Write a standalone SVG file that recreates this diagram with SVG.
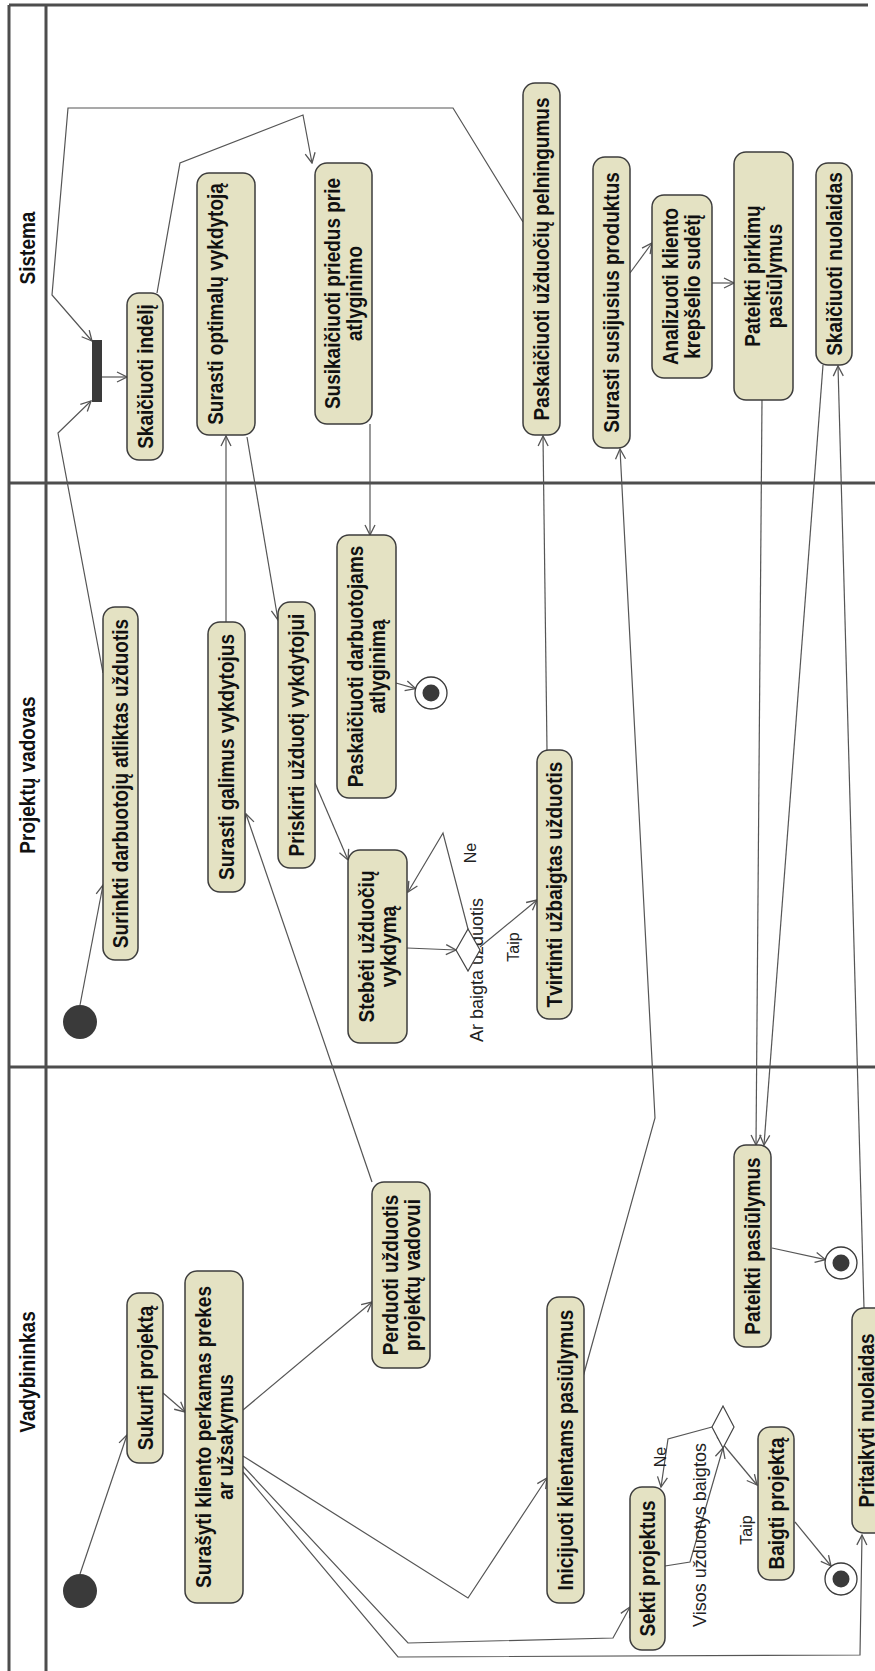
<svg xmlns="http://www.w3.org/2000/svg" width="875" height="1671" viewBox="0 0 875 1671">
  <defs>
    <marker id="arr" markerUnits="userSpaceOnUse" markerWidth="12" markerHeight="12" refX="11" refY="6" orient="auto">
      <path d="M1,1 L11,6 L1,11" fill="none" stroke="#555" stroke-width="1.3"/>
    </marker>
    <style>
      .frame { fill: none; stroke: #4d4d4d; stroke-width: 3; }
      .node rect { fill: #e4e2c3; stroke: #3d3d3d; stroke-width: 1.5; }
      .lbl { font-family: "Liberation Sans", Arial, sans-serif; font-weight: bold; font-size: 19px; fill: #111; text-anchor: middle; }
      .guard { font-family: "Liberation Sans", Arial, sans-serif; font-size: 16px; fill: #222; text-anchor: middle; }
      .cond { font-family: "Liberation Sans", Arial, sans-serif; font-size: 18px; fill: #222; text-anchor: middle; }
      .edge { fill: none; stroke: #555; stroke-width: 1.2; marker-end: url(#arr); }
      .start { fill: #3a3a3a; }
      .endo { fill: #fff; stroke: #3a3a3a; stroke-width: 1.3; }
      .endi { fill: #3a3a3a; }
      .dec { fill: #fff; stroke: #444; stroke-width: 1.2; }
      .bar { fill: #3a3a3a; }
    </style>
  </defs>

  <rect width="875" height="1671" fill="#fff"/>

  <!-- swimlane frame -->
  <g id="lanes">
    <path class="frame" d="M9,5 H868 M9,5 V1671 M46,5 V1671 M9,483 H875 M9,1067 H875"/>
    <text class="lbl" transform="translate(27,248) rotate(-90) scale(1,1.15)" y="6.8">Sistema</text>
    <text class="lbl" transform="translate(27,775) rotate(-90) scale(1,1.15)" y="6.8">Projektų vadovas</text>
    <text class="lbl" transform="translate(27,1372) rotate(-90) scale(1,1.15)" y="6.8">Vadybininkas</text>
  </g>

  <!-- connectors -->
  <g id="connectors">
    <path class="edge" d="M80,1574 L127,1435"/>
    <path class="edge" d="M163,1393 L185,1412"/>
    <path class="edge" d="M243,1410 L372,1302"/>
    <path class="edge" d="M243,1456 L468,1598 L547,1478"/>
    <path class="edge" d="M243,1466 L408,1643 L613,1638 L630,1607"/>
    <path class="edge" d="M243,1472 L398,1657 L860,1655 L862,1535"/>
    <path class="edge" d="M372,1182 L246,814"/>
    <path class="edge" d="M226,622 L226,436"/>
    <path class="edge" d="M247,437 L278,620"/>
    <path class="edge" d="M315,783 L348,860"/>
    <path class="edge" d="M407,948 L456,950"/>
    <path class="edge" d="M468,929 L443,833 L408,892"/>
    <path class="edge" d="M480,947 L537,900"/>
    <path class="edge" d="M547,750 L543,436"/>
    <path class="edge" d="M523,222 L453,108 L68,108 L52,295 L92,341"/>
    <path class="edge" d="M103,673 L58,433 L91,401"/>
    <path class="edge" d="M102,377 L127,377"/>
    <path class="edge" d="M157,293 L180,163 L303,115 L312,163"/>
    <path class="edge" d="M80,1005 L103,885"/>
    <path class="edge" d="M370,424 L370,535"/>
    <path class="edge" d="M396,683 L415.6,688.6"/>
    <path class="edge" d="M630,273 L652,243"/>
    <path class="edge" d="M712,283 L734,283"/>
    <path class="edge" d="M583,1377 L655,1118 L620,449"/>
    <path class="edge" d="M762,400 L756,1145"/>
    <path class="edge" d="M823,365 L764,1145"/>
    <path class="edge" d="M864,1308 L838,366"/>
    <path class="edge" d="M772,1248 L825.4,1259.6"/>
    <path class="edge" d="M795,1522 L831,1566"/>
    <path class="edge" d="M665,1566 L690,1562 L723,1448"/>
    <path class="edge" d="M712,1427 L668,1439 L661,1487"/>
    <path class="edge" d="M717,1437 L757,1485"/>
  </g>

  <!-- guard and decision labels -->
  <g id="edge-labels">
    <text class="guard" transform="translate(476,853) rotate(-90)">Ne</text>
    <text class="guard" transform="translate(519,947) rotate(-90)">Taip</text>
    <text class="cond" transform="translate(483,970) rotate(-90)">Ar baigta užduotis</text>
    <text class="guard" transform="translate(666,1457) rotate(-90)">Ne</text>
    <text class="guard" transform="translate(752,1530) rotate(-90)">Taip</text>
    <text class="cond" transform="translate(706,1535) rotate(-90)">Visos užduotys baigtos</text>
  </g>

  <!-- Sistema lane -->
  <g id="fork" class="node"><rect class="bar" x="92" y="340" width="10" height="62" style="fill:#3a3a3a;stroke:none"/></g>
  <g id="skaiciuoti-indeli" class="node">
    <rect x="127" y="293" width="36" height="167" rx="12"/>
    <text class="lbl" transform="translate(145,376.5) rotate(-90) scale(1,1.15)" y="6.8">Skaičiuoti indėlį</text>
  </g>
  <g id="surasti-optimalu" class="node">
    <rect x="197" y="173" width="58" height="262" rx="12"/>
    <text class="lbl" transform="translate(226,304) rotate(-90) scale(1,1.15)" y="-2.7">Surasti optimalų vykdytoją</text>
  </g>
  <g id="susikaiciuoti-priedus" class="node">
    <rect x="315" y="163" width="57" height="261" rx="12"/>
    <text class="lbl" transform="translate(343.5,293.5) rotate(-90) scale(1,1.15)"><tspan x="0" y="-2.7">Susikaičiuoti priedus prie</tspan><tspan x="0" y="16.3">atlyginimo</tspan></text>
  </g>
  <g id="paskaiciuoti-pelninguma" class="node">
    <rect x="523" y="83" width="37" height="352" rx="12"/>
    <text class="lbl" transform="translate(541.5,259) rotate(-90) scale(1,1.15)" y="6.8">Paskaičiuoti užduočių pelningumus</text>
  </g>
  <g id="surasti-susijusius" class="node">
    <rect x="593" y="157" width="37" height="291" rx="12"/>
    <text class="lbl" transform="translate(611.5,302.5) rotate(-90) scale(1,1.15)" y="6.8">Surasti susijusius produktus</text>
  </g>
  <g id="analizuoti-krepseli" class="node">
    <rect x="652" y="195" width="60" height="183" rx="12"/>
    <text class="lbl" transform="translate(681,286.5) rotate(-90) scale(1,1.15)"><tspan x="0" y="-2.7">Analizuoti kliento</tspan><tspan x="0" y="16.3">krepšelio sudėtį</tspan></text>
  </g>
  <g id="pateikti-pirkimu" class="node">
    <rect x="734" y="152" width="59" height="248" rx="12"/>
    <text class="lbl" transform="translate(763.5,276) rotate(-90) scale(1,1.15)"><tspan x="0" y="-2.7">Pateikti pirkimų</tspan><tspan x="0" y="16.3">pasiūlymus</tspan></text>
  </g>
  <g id="skaiciuoti-nuolaidas" class="node">
    <rect x="816" y="163" width="36" height="202" rx="12"/>
    <text class="lbl" transform="translate(834,264) rotate(-90) scale(1,1.15)" y="6.8">Skaičiuoti nuolaidas</text>
  </g>

  <!-- Projektų vadovas lane -->
  <g id="start-pv"><circle class="start" cx="80" cy="1022" r="17"/></g>
  <g id="surinkti" class="node">
    <rect x="103" y="607" width="35" height="353" rx="12"/>
    <text class="lbl" transform="translate(120.5,783.5) rotate(-90) scale(1,1.15)" y="6.8">Surinkti darbuotojų atliktas užduotis</text>
  </g>
  <g id="surasti-galimus" class="node">
    <rect x="208" y="622" width="37" height="270" rx="12"/>
    <text class="lbl" transform="translate(226.5,757) rotate(-90) scale(1,1.15)" y="6.8">Surasti galimus vykdytojus</text>
  </g>
  <g id="priskirti" class="node">
    <rect x="278" y="602" width="37" height="266" rx="12"/>
    <text class="lbl" transform="translate(296.5,735) rotate(-90) scale(1,1.15)" y="6.8">Priskirti užduotį vykdytojui</text>
  </g>
  <g id="paskaiciuoti-atlyginima" class="node">
    <rect x="337" y="535" width="59" height="263" rx="12"/>
    <text class="lbl" transform="translate(366.5,666.5) rotate(-90) scale(1,1.15)"><tspan x="0" y="-2.7">Paskaičiuoti darbuotojams</tspan><tspan x="0" y="16.3">atlyginimą</tspan></text>
  </g>
  <g id="end-pv"><circle class="endo" cx="431" cy="693" r="16"/><circle class="endi" cx="431" cy="693" r="8.5"/></g>
  <g id="stebeti" class="node">
    <rect x="348" y="850" width="59" height="193" rx="12"/>
    <text class="lbl" transform="translate(377.5,946.5) rotate(-90) scale(1,1.15)"><tspan x="0" y="-2.7">Stebėti užduočių</tspan><tspan x="0" y="16.3">vykdymą</tspan></text>
  </g>
  <g id="decision-uzduotis"><polygon class="dec" points="456,950 468,929 480,950 468,971"/></g>
  <g id="tvirtinti" class="node">
    <rect x="537" y="750" width="35" height="269" rx="12"/>
    <text class="lbl" transform="translate(554.5,884.5) rotate(-90) scale(1,1.15)" y="6.8">Tvirtinti užbaigtas užduotis</text>
  </g>

  <!-- Vadybininkas lane -->
  <g id="start-v"><circle class="start" cx="80" cy="1591" r="17"/></g>
  <g id="sukurti" class="node">
    <rect x="127" y="1293" width="36" height="170" rx="12"/>
    <text class="lbl" transform="translate(145,1378) rotate(-90) scale(1,1.15)" y="6.8">Sukurti projektą</text>
  </g>
  <g id="surasyti" class="node">
    <rect x="185" y="1271" width="58" height="332" rx="12"/>
    <text class="lbl" transform="translate(214,1437) rotate(-90) scale(1,1.15)"><tspan x="0" y="-2.7">Surašyti kliento perkamas prekes</tspan><tspan x="0" y="16.3">ar užsakymus</tspan></text>
  </g>
  <g id="perduoti" class="node">
    <rect x="372" y="1182" width="58" height="186" rx="12"/>
    <text class="lbl" transform="translate(401,1275) rotate(-90) scale(1,1.15)"><tspan x="0" y="-2.7">Perduoti užduotis</tspan><tspan x="0" y="16.3">projektų vadovui</tspan></text>
  </g>
  <g id="inicijuoti" class="node">
    <rect x="547" y="1297" width="37" height="306" rx="12"/>
    <text class="lbl" transform="translate(565.5,1450) rotate(-90) scale(1,1.15)" y="6.8">Inicijuoti klientams pasiūlymus</text>
  </g>
  <g id="sekti" class="node">
    <rect x="630" y="1487" width="35" height="163" rx="12"/>
    <text class="lbl" transform="translate(647.5,1568.5) rotate(-90) scale(1,1.15)" y="6.8">Sekti projektus</text>
  </g>
  <g id="decision-projektai"><polygon class="dec" points="712,1427 723,1406 734,1427 723,1448"/></g>
  <g id="baigti" class="node">
    <rect x="758" y="1427" width="36" height="153" rx="12"/>
    <text class="lbl" transform="translate(776,1503.5) rotate(-90) scale(1,1.15)" y="6.8">Baigti projektą</text>
  </g>
  <g id="end-v2"><circle class="endo" cx="841" cy="1579" r="16"/><circle class="endi" cx="841" cy="1579" r="8.5"/></g>
  <g id="pateikti-pasiulymus" class="node">
    <rect x="734" y="1145" width="37" height="202" rx="12"/>
    <text class="lbl" transform="translate(752.5,1246) rotate(-90) scale(1,1.15)" y="6.8">Pateikti pasiūlymus</text>
  </g>
  <g id="end-v1"><circle class="endo" cx="841" cy="1263" r="16"/><circle class="endi" cx="841" cy="1263" r="8.5"/></g>
  <g id="pritaikyti" class="node">
    <rect x="852" y="1308" width="37" height="225" rx="12"/>
    <text class="lbl" transform="translate(866,1420.5) rotate(-90) scale(1,1.15)" y="6.8">Pritaikyti nuolaidas</text>
  </g>
</svg>
